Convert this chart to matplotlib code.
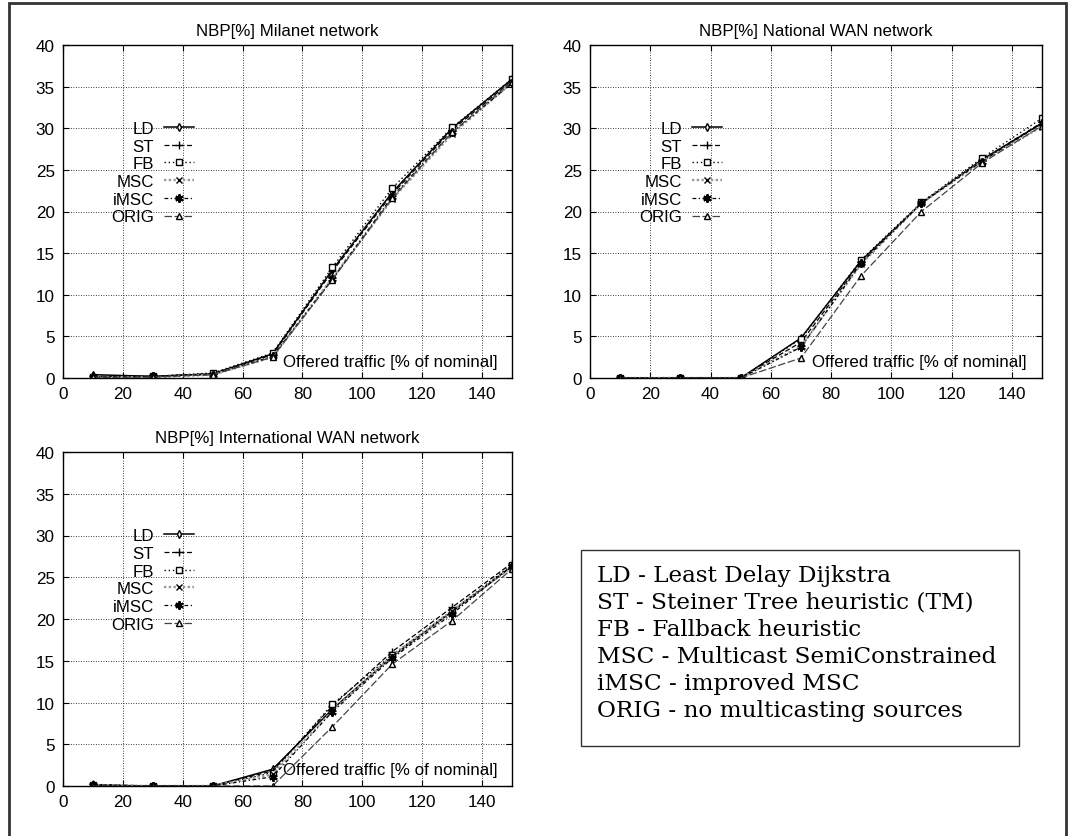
import numpy as np
import matplotlib
matplotlib.use("Agg")
import matplotlib.pyplot as plt
from matplotlib.patches import Rectangle

# offered traffic, % of nominal
traffic = [10, 30, 50, 70, 90, 110, 130, 150]

algos = ["LD", "ST", "FB", "MSC", "iMSC", "ORIG"]

# NBP [%] -- Milanet
milanet_ld = [0.4, 0.2, 0.5, 2.9, 13.0, 22.3, 30.0, 35.9]
milanet_st = [0.2, 0.2, 0.5, 2.8, 12.8, 22.1, 29.8, 35.7]
milanet_fb = [0.1, 0.2, 0.6, 3.0, 13.3, 22.8, 30.1, 35.9]
milanet_msc = [0.1, 0.1, 0.4, 2.5, 12.0, 21.5, 29.3, 35.5]
milanet_imsc = [0.1, 0.2, 0.4, 2.6, 11.9, 21.8, 29.5, 35.4]
milanet_orig = [0.1, 0.1, 0.4, 2.5, 11.8, 21.6, 29.5, 35.6]

# NBP [%] -- National WAN
national_ld = [0.0, 0.0, 0.0, 4.8, 14.1, 21.0, 26.2, 30.6]
national_st = [0.0, 0.0, 0.0, 4.3, 13.9, 21.0, 26.2, 30.7]
national_fb = [0.0, 0.0, 0.0, 4.7, 14.2, 21.1, 26.4, 31.2]
national_msc = [0.0, 0.0, 0.0, 3.8, 13.7, 21.0, 26.0, 30.2]
national_imsc = [0.0, 0.0, 0.0, 3.7, 13.8, 21.0, 26.0, 30.6]
national_orig = [0.0, 0.0, 0.0, 2.4, 12.3, 20.0, 25.8, 30.3]

# NBP [%] -- International WAN
intl_ld = [0.1, 0.0, 0.0, 2.0, 9.2, 15.5, 20.9, 26.3]
intl_st = [0.2, 0.0, 0.0, 1.8, 9.6, 16.1, 21.4, 26.7]
intl_fb = [0.1, 0.0, 0.0, 1.6, 9.8, 15.7, 21.0, 26.5]
intl_msc = [0.1, 0.0, 0.0, 1.4, 9.0, 15.6, 21.0, 26.2]
intl_imsc = [0.1, 0.0, 0.0, 1.1, 8.9, 15.3, 20.6, 26.4]
intl_orig = [0.0, 0.0, 0.0, 0.0, 7.1, 14.6, 19.8, 26.0]

panels = [
    ("NBP[%] Milanet network",
     [milanet_ld, milanet_st, milanet_fb, milanet_msc, milanet_imsc, milanet_orig]),
    ("NBP[%] National WAN network",
     [national_ld, national_st, national_fb, national_msc, national_imsc, national_orig]),
    ("NBP[%] International WAN network",
     [intl_ld, intl_st, intl_fb, intl_msc, intl_imsc, intl_orig]),
]

descriptions = [
    "LD - Least Delay Dijkstra",
    "ST - Steiner Tree heuristic (TM)",
    "FB - Fallback heuristic",
    "MSC - Multicast SemiConstrained",
    "iMSC - improved MSC",
    "ORIG - no multicasting sources",
]

# gnuplot-ish line/point types per algorithm
styles = {
    "LD":   dict(color="black", ls="-", lw=1.1, marker="d", mfc="white", ms=4),
    "ST":   dict(color="black", ls=(0, (4, 2)), lw=0.9, marker="+", ms=6),
    "FB":   dict(color="black", ls=(0, (1, 2)), lw=1.0, marker="s", mfc="white", ms=4.5),
    "MSC":  dict(color="#9a9a9a", ls=(0, (1, 1)), lw=1.7, marker="x", mec="black", ms=5),
    "iMSC": dict(color="black", ls=(0, (3, 2, 1, 2)), lw=0.9, marker=(6, 2, 0), ms=6, mew=1.5),
    "ORIG": dict(color="#444444", ls=(0, (6, 2)), lw=0.9, marker="^", mfc="white", mec="black", ms=4.5),
}

plt.rcParams["font.family"] = ["Liberation Sans", "DejaVu Sans"]

fig = plt.figure(figsize=(10.69, 8.37), dpi=100)
W, H = 1069, 837


def px_axes(left, top, right, bottom):
    return fig.add_axes([left / W, 1 - bottom / H, (right - left) / W, (bottom - top) / H])


axes = [
    px_axes(63, 46, 512, 379),
    px_axes(590, 46, 1042, 379),
    px_axes(63, 453, 512, 787),
]

for ax, (title, series) in zip(axes, panels):
    for name, ys in zip(algos, series):
        ax.plot(traffic, ys, label=name, **styles[name])
    ax.set_xlim(0, 150)
    ax.set_ylim(0, 40)
    ax.set_xticks(np.arange(0, 150, 20))
    ax.set_yticks(np.arange(0, 41, 5))
    ax.grid(True, color="black", ls=(0, (1, 2)), lw=0.6)
    ax.tick_params(direction="in", top=True, right=True, length=4, width=0.8,
                   labelsize=12.3, pad=6)
    for s in ax.spines.values():
        s.set_linewidth(1.0)
    ax.set_title(title, fontsize=12.2, pad=7)
    ax.text(0.967, 0.037, "Offered traffic [% of nominal]", transform=ax.transAxes,
            ha="right", va="baseline", fontsize=12.2)
    ax.legend(loc="upper right", bbox_to_anchor=(0.292, 0.772), frameon=False,
              markerfirst=False, fontsize=12.2, handlelength=1.75, handletextpad=0.6,
              labelspacing=0.16, borderpad=0, borderaxespad=0, numpoints=1)

# outer frame
fig.add_artist(Rectangle((9 / W, -0.02), 1057 / W, 1 - 3.5 / H + 0.02,
                         transform=fig.transFigure, fill=False,
                         ec="#333333", lw=2))

# algorithm key
fig.add_artist(Rectangle((581 / W, 1 - 747 / H), 438 / W, 196 / H,
                         transform=fig.transFigure, fill=False,
                         ec="#333333", lw=1))
for i, line in enumerate(descriptions):
    fig.text(597 / W, 1 - (582 + 27 * i) / H, line, family="DejaVu Serif",
             fontsize=16.7, ha="left", va="baseline")

fig.savefig("out.png", dpi=100)
